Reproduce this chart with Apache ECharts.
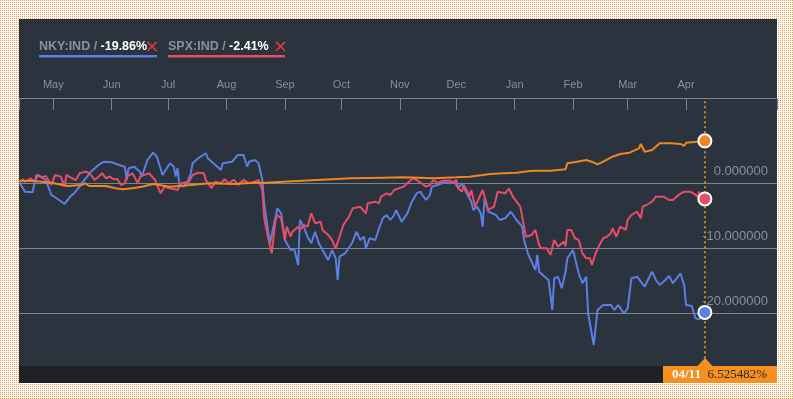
<!DOCTYPE html>
<html>
<head>
<meta charset="utf-8">
<script src="https://cdn.jsdelivr.net/npm/echarts@6/dist/echarts.min.js"></script>
<style>
    html, body { margin: 0; padding: 0; }
    body {
        width: 793px; height: 399px; position: relative; overflow: hidden;
        background-color: #ffffff;
        background-image: url("data:image/svg+xml,%3Csvg xmlns='http://www.w3.org/2000/svg' width='2' height='2'%3E%3Crect width='1' height='1' fill='%23f39a48'/%3E%3C/svg%3E");
        background-size: 2px 2px;
    }
    #panel { position: absolute; left: 19px; top: 19px; width: 758px; height: 364px; background: #2b333f; }
    #main { position: absolute; left: 0; top: 0; width: 793px; height: 399px; }
</style>
</head>
<body>
<div id="panel"></div>
<div id="main"></div>
<script>
    // x values are days counted from 1 May 2015 (day 0), y values are % change
    var xFirstDay = -18.2, xLastDay = 384.3;
    var yMin = -30, yMax = 13.12, yStep = 10;
    var gridValues = [0, -10, -20];

    var monthTicks = ['2015-05-01', '2015-06-01', '2015-07-01', '2015-08-01', '2015-09-01', '2015-10-01',
        '2015-11-01', '2015-12-01', '2016-01-01', '2016-02-01', '2016-03-01', '2016-04-01'];
    var monthLabels = ['May', 'Jun', 'Jul', 'Aug', 'Sep', 'Oct', 'Nov', 'Dec', 'Jan', 'Feb', 'Mar', 'Apr'];

    var legendNames = ['NKY:IND', 'SPX:IND'];

    var nkyData = [
        [-18, 0.15], [-15, -1.29], [-11, -1.38], [-9, 1.28], [-8, 1.54], [-7, 1.02], [-4, 0.51], [-3, 0.25], [-1, -1.8],
        [1, -2.15], [6, -3.18], [9, -2.06], [11, -1.54], [14, -0.52], [15, 0], [18, 1.02], [20, 1.78], [24, 2.82],
        [27, 3.32], [31, 3.23], [35, 2.82], [38, 2.55], [39, 0.51], [40, 2.31], [43, 2.55], [46, 1.78], [47, 1.0],
        [50, 3.58], [53, 4.71], [55, 4.09], [58, 1.28], [62, 3.08], [64, 2.55], [65, 1.02], [66, 2.31], [67, -0.26],
        [69, -0.52], [71, 0], [73, 1.54], [74, 3.08], [77, 3.85], [81, 4.62], [82, 3.85], [85, 3.08], [89, 2.05],
        [90, 3.08], [95, 3.32], [98, 4.35], [101, 4.35], [103, 2.55], [104, 3.32], [107, 3.58], [109, 3.08],
        [111, 0.51], [112, -3.08], [115, -9.3], [119, -3.85], [121, -4.62], [123, -8.72], [126, -10.26],
        [128, -10.15], [130, -12.57], [131, -5.65], [133, -6.68], [135, -8.22], [137, -9.23], [139, -7.45],
        [141, -9.23], [143, -10.26], [146, -11.8], [148, -10.26], [150, -11.54], [151, -14.88], [152, -11.29],
        [155, -10.77], [158, -9.49], [159, -8.98], [161, -7.45], [163, -8.72], [165, -8.22], [166, -10], [168, -8.46],
        [171, -8.72], [173, -6.92], [174, -6.92], [175, -5.38], [177, -4.88], [179, -5.65], [181, -4.88], [182, -4.11],
        [185, -5.91], [188, -4.62], [190, -3.08], [193, -1.54], [195, -1.29], [196, -1.8], [198, -2.57], [200, -1.8],
        [201, -0.52], [204, -0.26], [207, 0.09], [211, 0], [213, 0.25], [215, -0.77], [217, 0], [219, -1.29],
        [220, -1.54], [222, -2.83], [223, -4.11], [225, -3.6], [227, -4.62], [228, -6.68], [229, -2.31], [231, -4.37],
        [232, -4.62], [235, -4.88], [237, -5.65], [240, -5.38], [243, -4.37], [246, -5.65], [249, -6.68], [250, -8.72],
        [252, -10.77], [256, -13.34], [257, -11.03], [258, -13.6], [261, -14.37], [263, -14.88], [265, -19.49],
        [266, -14.62], [268, -14.37], [270, -16.15], [272, -13.6], [273, -11.54], [276, -10.26], [279, -13.85],
        [281, -15.38], [283, -14.37], [284, -20], [287, -24.88], [289, -19.49], [292, -18.72], [296, -18.72],
        [298, -19.49], [300, -18.72], [303, -20], [305, -19.23], [307, -14.62], [310, -14.37], [312, -15.14],
        [314, -15.91], [317, -14.12], [318, -13.6], [320, -14.88], [322, -15.65], [325, -14.88], [327, -14.26],
        [329, -15.38], [331, -14.62], [333, -13.85], [335, -15.65], [336, -18.72], [339, -18.88], [341, -20.77],
        [343, -20.92], [344, -20.52], [346, -19.86]
    ];

    var spxData = [
        [-18, 0.09], [-16, 0.62], [-15, 0.2], [-12, 0.77], [-10, 0.25], [-8, 1.28], [-6, 0.92], [-4, 1.12], [-3, 0.97],
        [-1, -0.26], [1, 1.28], [4, 1.02], [6, -0.52], [7, 1.28], [10, 0.77], [12, 0.51], [14, 1.54], [17, 1.78],
        [19, 1.63], [22, 0.51], [24, 1.02], [26, 1.54], [28, 0.77], [30, 1.02], [32, 0.62], [34, 0.66], [36, -0.26],
        [38, 0], [39, 1.02], [42, 1.54], [45, 0], [46, 0.97], [48, 1.28], [51, 1.54], [54, 0.51], [57, -1.54],
        [59, -0.52], [62, -0.77], [66, -1.03], [68, 0], [72, 0.25], [74, 1.28], [77, 1.63], [80, 1.54], [81, 0.51],
        [84, -0.77], [86, 0.25], [89, 0], [91, 0.62], [93, 0], [96, 0.51], [98, -0.26], [101, 0.51], [104, 0],
        [107, 0.25], [109, 0.51], [111, -1.03], [112, -5.38], [114, -8.22], [116, -10.77], [118, -5.65], [119, -4.88],
        [121, -5.38], [123, -8.72], [124, -6.68], [126, -8.22], [127, -7.45], [130, -6.68], [131, -7.18], [133, -6.42],
        [135, -6.68], [137, -4.62], [139, -6.15], [142, -5.91], [143, -7.18], [146, -7.95], [148, -8.72], [150, -10],
        [151, -9.8], [152, -8.22], [154, -6.42], [157, -5.14], [158, -4.88], [159, -3.85], [163, -3.6], [166, -4.62],
        [167, -3.08], [171, -2.83], [173, -3.08], [174, -2.06], [177, -1.54], [179, -1.8], [181, -1.03], [182, -0.77],
        [186, -0.52], [188, 0], [189, 0], [191, 0.77], [193, 0.51], [196, -0.11], [198, -0.52], [200, -0.26],
        [202, 0.51], [203, 0.77], [204, 0.05], [207, 0.4], [211, 0.4], [212, 0], [214, 0.51], [215, -0.77],
        [217, -1.29], [218, -0.26], [220, -1.29], [221, -2.06], [222, -1.03], [224, -3.6], [225, -3.34], [228, -1.03],
        [231, -4.11], [234, -3.6], [236, -1.29], [240, -1.54], [242, -0.77], [244, -2.06], [248, -3.6], [251, -8.22],
        [254, -7.95], [256, -7.18], [258, -9.49], [259, -10], [262, -10], [264, -11.03], [266, -8.72], [268, -9.75],
        [271, -8.98], [272, -9.65], [273, -7.18], [275, -7.18], [277, -8.46], [279, -8.72], [281, -10.77],
        [283, -11.54], [285, -11.54], [286, -12.57], [288, -10.77], [290, -9.49], [292, -8.46], [294, -8.22],
        [296, -7.69], [297, -6.92], [299, -8.22], [301, -6.68], [304, -7.18], [305, -5.65], [307, -4.88], [310, -4.37],
        [312, -5.38], [313, -3.6], [315, -3.34], [318, -2.83], [320, -2.06], [321, -1.8], [324, -2.06], [327, -2.57],
        [329, -2.57], [332, -1.8], [335, -1.29], [336, -1.03], [338, -1.29], [340, -1.54], [342, -2.06], [343, -1.29],
        [344, -2.31], [346, -2.41]
    ];

    var benchData = [
        [-18, 0.4], [-10, 0.35], [-1, 0.09], [5, -0.26], [8, -0.42], [15, -0.26], [17, 0], [19, -0.42], [28, -0.42],
        [33, -0.77], [37, -0.92], [42, -0.77], [47, -0.52], [53, -0.11], [62, -0.52], [73, -0.26], [83, 0],
        [96, -0.11], [106, 0.09], [113, 0.09], [122, 0.25], [140, 0.51], [158, 0.77], [175, 0.86], [186, 0.92],
        [202, 0.77], [214, 0.92], [221, 1.02], [228, 1.28], [232, 1.43], [239, 1.54], [246, 1.63], [253, 1.89],
        [257, 1.94], [264, 1.94], [272, 2.15], [273, 3.08], [278, 3.32], [283, 3.58], [286, 3.32], [289, 2.92],
        [292, 3.32], [297, 4.09], [301, 4.51], [306, 4.71], [311, 5.38], [312, 6.05], [314, 4.86], [318, 5.12],
        [322, 6.15], [328, 6.15], [333, 6.05], [335, 5.74], [336, 6.25], [342, 6.4], [346, 6.525482]
    ];

    var BLUE = '#5b7fe3', RED = '#e84d68', ORANGE = '#f0861e';
    var GRID_GRAY = '#80858b', LABEL_GRAY = '#8b9097';
    var DAY = 86400000;
    var origin = new Date(2015, 4, 1).getTime();

    function dateToDay(s) {
        var p = s.split('-');
        return Math.round((new Date(+p[0], +p[1] - 1, +p[2]).getTime() - origin) / DAY);
    }
    var monthDays = monthTicks.map(dateToDay);

    // only the 0 / -10 / -20 lines are drawn
    var splitColors = [];
    for (var v = yMin; v < yMax; v += yStep) {
        splitColors.push(gridValues.indexOf(v) >= 0 ? GRID_GRAY : 'rgba(0,0,0,0)');
    }
    splitColors.push('rgba(0,0,0,0)');

    function lineSeries(name, data, color) {
        return {
            name: name,
            type: 'line',
            data: data,
            showSymbol: false,
            symbol: 'none',
            lineStyle: { color: color, width: 2 },
            itemStyle: { color: color },
            markPoint: {
                z: 6,
                silent: true,
                symbol: 'circle',
                symbolSize: 13,
                itemStyle: { color: color, borderColor: '#ffffff', borderWidth: 2 },
                label: { show: false },
                data: [{ coord: data[data.length - 1] }]
            }
        };
    }

    var nky = lineSeries(legendNames[0], nkyData, BLUE);
    var spx = lineSeries(legendNames[1], spxData, RED);
    var bench = lineSeries('bench', benchData, ORANGE);
    var lastDay = benchData[benchData.length - 1][0];
    bench.markLine = {
        z: 3,
        silent: true,
        symbol: 'none',
        label: { show: false },
        lineStyle: { color: '#c48a22', type: [2, 3], width: 2 },
        data: [{ xAxis: lastDay }]
    };

    function pct(raw, digits) {
        return raw[raw.length - 1][1].toFixed(digits) + '%';
    }
    var lastDate = new Date(origin + lastDay * DAY + 12 * 3600000);
    var tipDate = ('0' + (lastDate.getMonth() + 1)).slice(-2) + '/' + ('0' + lastDate.getDate()).slice(-2);

    var legendFont = { fontSize: 12.5, fontWeight: 'bold', fontFamily: 'Liberation Sans' };
    function legendItem(x, name, raw, color, crossX, lineW) {
        return [
            {
                type: 'text', x: x, y: 47,
                style: {
                    text: '{n|' + name + ' / }{v|' + pct(raw, 2) + '}',
                    verticalAlign: 'middle',
                    rich: {
                        n: Object.assign({ fill: '#8b9199' }, legendFont),
                        v: Object.assign({ fill: '#ffffff' }, legendFont)
                    }
                }
            },
            {
                type: 'text', x: crossX, y: 47,
                style: { text: '×', fill: '#e8373f', fontSize: 18, fontFamily: 'DejaVu Sans', align: 'center', verticalAlign: 'middle' }
            },
            { type: 'rect', shape: { x: x, y: 55, width: lineW, height: 2.5 }, style: { fill: color } }
        ];
    }

    var graphics = []
        .concat(legendItem(39, legendNames[0], nkyData, BLUE, 152, 118))
        .concat(legendItem(168, legendNames[1], spxData, RED, 280.5, 117))
        .concat([
            { type: 'rect', z: 100, shape: { x: 19, y: 366, width: 644, height: 17 }, style: { fill: '#1f2124' } },
            { type: 'rect', z: 100, shape: { x: 663, y: 366, width: 114, height: 17 }, style: { fill: '#f7901e' } },
            { type: 'polygon', z: 100, shape: { points: [[697, 366.5], [705, 358], [713, 366.5]] }, style: { fill: '#f7901e' } },
            {
                type: 'text', z: 101, x: 672, y: 375,
                style: {
                    text: '{d|' + tipDate + '}  {v|' + pct(benchData, 6) + '}',
                    verticalAlign: 'middle',
                    rich: {
                        d: { fill: '#ffffff', fontSize: 13, fontWeight: 'bold', fontFamily: 'Liberation Serif' },
                        v: { fill: '#2a2a2a', fontSize: 13, fontFamily: 'Liberation Serif' }
                    }
                }
            }
        ]);

    var myChart = echarts.init(document.getElementById('main'));
    var option = {
        backgroundColor: 'transparent',
        animation: false,
        grid: { left: 19, right: 16, top: 98, bottom: 20.7, outerBoundsMode: 'none' },
        xAxis: {
            type: 'value',
            position: 'top',
            min: xFirstDay,
            max: xLastDay,
            axisLine: { show: true, onZero: false, lineStyle: { color: GRID_GRAY, width: 1 } },
            axisTick: {
                show: true, inside: true, length: 12,
                lineStyle: { color: GRID_GRAY },
                customValues: [xFirstDay].concat(monthDays).concat([xLastDay])
            },
            axisLabel: {
                customValues: monthDays,
                color: LABEL_GRAY,
                fontSize: 11,
                fontFamily: 'Liberation Sans',
                margin: 8,
                formatter: function (val) {
                    var best = 0;
                    for (var i = 1; i < monthDays.length; i++) {
                        if (Math.abs(monthDays[i] - val) < Math.abs(monthDays[best] - val)) best = i;
                    }
                    return monthLabels[best];
                }
            },
            splitLine: { show: false }
        },
        yAxis: {
            type: 'value',
            position: 'right',
            min: yMin,
            max: yMax,
            interval: yStep,
            axisLine: { show: false },
            axisTick: { show: false },
            axisLabel: {
                inside: true,
                margin: 9,
                fontSize: 13,
                fontFamily: 'Liberation Sans',
                color: LABEL_GRAY,
                verticalAlign: 'bottom',
                lineHeight: 13,
                padding: [0, 0, 5, 0],
                formatter: function (val) {
                    return gridValues.indexOf(val) >= 0 ? val.toFixed(6) : '';
                }
            },
            splitLine: { show: true, lineStyle: { color: splitColors, width: 1 } }
        },
        series: [nky, spx, bench],
        graphic: { elements: graphics }
    };
    myChart.setOption(option);
</script>
</body>
</html>
